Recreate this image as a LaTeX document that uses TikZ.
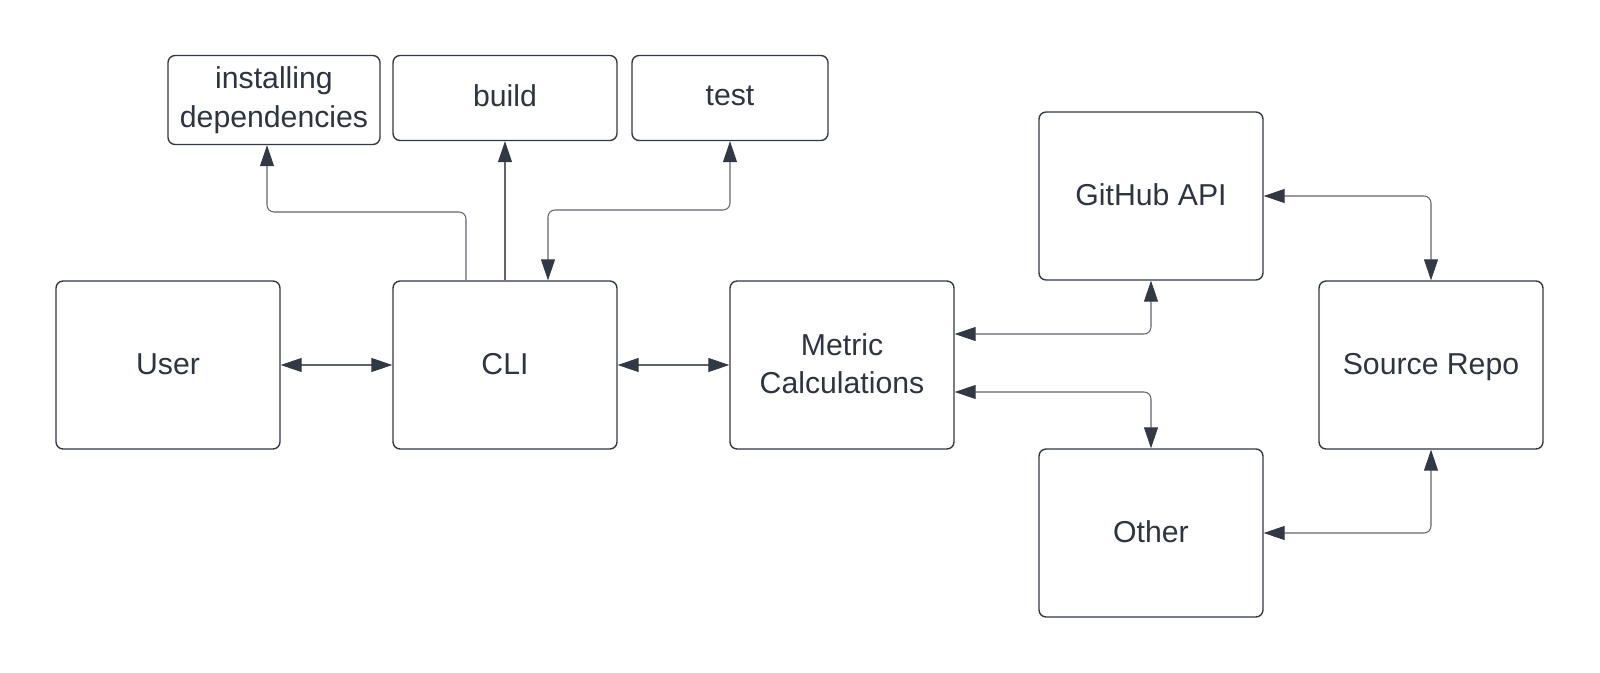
\documentclass[tikz,border=0pt]{standalone}
\usepackage{fontspec}
\setmainfont{Liberation Sans}
\usetikzlibrary{arrows.meta}
\definecolor{ink}{RGB}{46,52,64}
\definecolor{edge}{RGB}{50,56,68}
\definecolor{wire}{RGB}{95,100,110}

\begin{document}
\begin{tikzpicture}[x=0.02cm,y=-0.02cm]
  \tikzstyle{b} = [draw=edge, line width=0.8pt, rounded corners=4pt, fill=white,
    text=ink, align=center, inner sep=0pt, font=\fontsize{17.2}{22}\selectfont,
    text depth=0.15em, minimum width=4.48cm, minimum height=3.36cm]
  \tikzstyle{s} = [b, text depth=0.3em, minimum height=1.7cm]
  \tikzstyle{e} = [draw=wire, line width=0.6pt, rounded corners=4pt,
    arrows={Triangle[length=0.42cm,width=0.28cm,color=edge]-Triangle[length=0.42cm,width=0.28cm,color=edge]}];
  \tikzstyle{e1} = [e, arrows={-Triangle[length=0.42cm,width=0.28cm,color=edge]}];
  \useasboundingbox (0,0) rectangle (1600,673);

  \node[b](user) at (168,365){User};
  \node[b](cli) at (505,365){CLI};
  \node[b](metric) at (842,365){Metric\\Calculations};
  \node[b](github) at (1151,196){GitHub API};
  \node[b](other) at (1151,533){Other};
  \node[b](source) at (1431,365){Source Repo};

  \node[s, minimum width=4.24cm, minimum height=1.78cm](inst) at (274,100){installing\\dependencies};
  \node[s](build) at (505,98){build};
  \node[s, minimum width=3.92cm](test) at (730,98){test};

  \draw[e](user)--(cli);
  \draw[e](cli)--(metric);
  \draw[e1]([xshift=-0.78cm]cli.north) |- (267,212) -- ([xshift=-0.14cm]inst.south);
  \draw[e1](cli.north)--(build.south);
  \draw[e]([xshift=0.86cm]cli.north) |- (730,210) -- (test.south);
  \draw[e]([yshift=0.62cm]metric.east) -| (github.south);
  \draw[e]([yshift=-0.54cm]metric.east) -| (other.north);
  \draw[e](github.east) -| (source.north);
  \draw[e](other.east) -| (source.south);

\end{tikzpicture}
\end{document}
